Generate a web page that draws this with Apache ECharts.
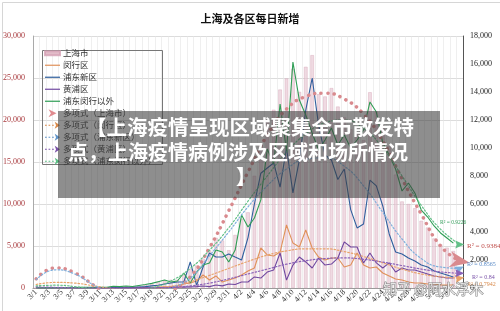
<!DOCTYPE html>
<html>
<head>
<meta charset="utf-8">
<style>
  html, body { margin: 0; padding: 0; background: #fff; }
  #main { width: 500px; height: 311px; }
</style>
<script src="https://cdn.jsdelivr.net/npm/echarts@6/dist/echarts.min.js"></script>
</head>
<body>
<div id="main"></div>
<script>
// categories: 3/1 .. 5/6
const dates = [
  '3/1','3/2','3/3','3/4','3/5','3/6','3/7','3/8','3/9','3/10',
  '3/11','3/12','3/13','3/14','3/15','3/16','3/17','3/18','3/19','3/20',
  '3/21','3/22','3/23','3/24','3/25','3/26','3/27','3/28','3/29','3/30','3/31',
  '4/1','4/2','4/3','4/4','4/5','4/6','4/7','4/8','4/9','4/10',
  '4/11','4/12','4/13','4/14','4/15','4/16','4/17','4/18','4/19','4/20',
  '4/21','4/22','4/23','4/24','4/25','4/26','4/27','4/28','4/29','4/30',
  '5/1','5/2','5/3','5/4','5/5','5/6'
]

// 上海市 (bars, left axis)
const shanghai = [
  2, 8, 17, 19, 28, 48, 55, 66, 79, 75, 83,
  65, 169, 139, 202, 158, 260, 374, 509, 758, 896,
  981, 983, 1609, 2269, 2676, 3500, 4477, 5982, 5653, 4502,
  6311, 8226, 9006, 13354, 17077, 19982, 21222, 23624, 24943, 26087,
  23342, 26330, 27719, 23072, 22800, 23800, 21600, 20300, 18900, 18500,
  17600, 23300, 21000, 19400, 16900, 13500, 10300, 10000, 9500, 8000,
  7200, 5900, 5200, 4800, 4400, null
]

// district lines (right axis)
const minhang = [
  0, 1, 2, 2, 3, 3, 5, 5, 6, 6, 8,
  8, 10, 15, 20, 20, 25, 30, 40, 60, 80,
  100, 150, 290, 360, 500, 930, 570, 860, 430, 570,
  710, 930, 1210, 1430, 2860, 2360, 2290, 2570, 4500, 3210,
  2930, 4140, 2860, 2210, 2000, 2140, 2140, 1500, 1640, 2500,
  1640, 1430, 1500, 1070, 860, 640, 570, 430, 360, 360,
  290, 290, 210, 210, 210, null
]
const pudong = [
  0, 2, 3, 3, 5, 8, 10, 10, 12, 12, 15,
  15, 30, 40, 50, 60, 70, 100, 150, 200, 290,
  360, 430, 430, 1860, 210, 1500, 2500, 2210, 2210, 2430,
  2210, 2000, 3600, 6000, 8200, 8570, 8930, 7210, 10000, 6790,
  9140, 12710, 15000, 11640, 9500, 9140, 7750, 8500, 5600, 4290,
  4570, 7710, 7290, 5860, 3860, 2570, 2430, 2140, 1930, 1640,
  1500, 1210, 1070, 930, 790, null
]
const huangpu = [
  0, 0, 0, 1, 1, 1, 2, 2, 2, 3, 3,
  3, 5, 5, 8, 8, 10, 12, 15, 20, 30,
  40, 50, 60, 80, 100, 140, 100, 210, 150, 290,
  250, 430, 430, 790, 710, 1140, 1290, 2500, 570, 1640,
  2210, 1860, 1430, 2140, 1640, 1710, 2140, 3290, 2930, 2930,
  1790, 2500, 1790, 1430, 1790, 1140, 1430, 1290, 1290, 1140,
  1000, 860, 790, 710, 710, null
]
const others = [
  2, 6, 12, 14, 20, 35, 40, 45, 50, 50, 55,
  50, 120, 100, 140, 110, 180, 250, 330, 450, 570,
  430, 500, 1070, 360, 1140, 1640, 1790, 2710, 2570, 1860,
  2710, 5210, 4360, 5000, 6290, 9930, 8860, 13140, 9800, 16140,
  13430, 12360, 11070, 9860, 10570, 11430, 10210, 10930, 10000, 10570,
  11290, 13290, 12570, 10360, 9500, 8500, 6930, 7500, 6790, 5570,
  5070, 4430, 3930, 3570, 3210, null
]

// polynomial trend lines, read at every third day
const trendAt = [0, 3, 6, 9, 12, 15, 18, 21, 24, 27, 30, 33, 36, 39, 42, 45, 48, 51, 54, 57, 60, 63, 66]
const trendShanghai = [1100, 2400, 1800, 300, -1300, -2000, -1700, -500, 1300, 4800, 9200, 13800, 18200, 21300, 22800, 23200, 22500, 20700, 17500, 13000, 8800, 5000, 3200]
const trendMinhang = [250, 400, 350, 150, -50, -150, -100, 100, 450, 900, 1400, 1900, 2350, 2650, 2800, 2800, 2600, 2250, 1800, 1350, 1000, 800, 700]
const trendPudong = [600, 1300, 1000, 200, -400, -700, -500, 0, 700, 2300, 4000, 5800, 7300, 8500, 9200, 9300, 8700, 7300, 5400, 3500, 2100, 1500, 1400]
const trendHuangpu = [80, 50, 20, 0, -30, -30, 0, 50, 150, 350, 650, 1000, 1350, 1700, 1950, 2100, 2150, 2050, 1850, 1600, 1350, 1150, 1050]
const trendOthers = [150, 200, 100, -100, -300, -300, 0, 500, 1400, 2700, 4300, 6200, 8000, 9700, 11000, 11800, 12000, 11400, 10000, 8000, 5900, 4200, 3100]

const serif = "'Liberation Serif', 'Noto Sans CJK SC', serif"
const cjk = "'Noto Sans CJK SC', sans-serif"
const arrowPath = 'path://M0,0 L10,5 L0,10 L3,5 Z'
const openArrow = 'path://M0,0 L10,5 L0,10 L1.5,5 Z'
const lineIcon = 'path://M0,4.4h15v1.2h-15z'
const dotArrowIcon = 'path://M0,4.4h2v1.2h-2z M4,4.4h2v1.2h-2z M8,4.4h2v1.2h-2z M11,1 L17,5 L11,9 L12.5,5 Z'

function trendData(values, arrow, size, rotate) {
  const out = dates.map(() => null)
  trendAt.forEach((d, k) => { out[d] = values[k] })
  const last = trendAt[trendAt.length - 1]
  out[last] = { value: out[last], symbol: arrow, symbolSize: size, symbolRotate: rotate }
  return out
}

function lineSeries(name, data, color) {
  return {
    name: name, type: 'line', yAxisIndex: 1, data: data,
    symbol: 'none', color: color,
    lineStyle: { width: 1.1, color: color }, z: 3
  }
}

function trendSeries(name, values, color, axis, width, dash, size, rotate, arrow) {
  return {
    name: name, type: 'line', yAxisIndex: axis, smooth: true, connectNulls: true,
    data: trendData(values, arrow || openArrow, size, rotate),
    symbol: 'none', showSymbol: true, showAllSymbol: true, color: color,
    itemStyle: { color: color },
    lineStyle: { width: width, color: color, type: dash, cap: 'round' }, z: 4
  }
}

const chart = echarts.init(document.getElementById('main'))

chart.setOption({
  backgroundColor: '#fff',
  animation: false,
  title: {
    text: '上海及各区每日新增', left: 'center', top: 8,
    textStyle: { fontFamily: cjk, fontSize: 11, fontWeight: 'bold', color: '#111' }
  },
  legend: {
    orient: 'vertical', left: 40, top: 48, z: 10,
    borderWidth: 0, padding: [1, 8, 1, 4],
    itemWidth: 15, itemHeight: 8, itemGap: 3.5,
    textStyle: { fontFamily: cjk, fontSize: 8.5, color: '#333', padding: [0, 0, 0, -2] },
    data: [
      { name: '上海市', icon: 'path://M0,0h15v4h-15z', itemStyle: { color: '#e2bcc9' } },
      { name: '闵行区', icon: lineIcon, itemStyle: { color: '#e0915a' } },
      { name: '浦东新区', icon: lineIcon, itemStyle: { color: '#2f5f9e' } },
      { name: '黄浦区', icon: lineIcon, itemStyle: { color: '#7048a0' } },
      { name: '浦东闵行以外', icon: lineIcon, itemStyle: { color: '#2f9e55' } },
      { name: '多项式（上海市）', icon: arrowPath, itemStyle: { color: '#e08a8f' } },
      { name: '多项式（闵行区）', icon: dotArrowIcon, itemStyle: { color: '#d9894a' } },
      { name: '多项式（浦东新区）', icon: dotArrowIcon, itemStyle: { color: '#5f93c8' } },
      { name: '多项式（黄浦区）', icon: dotArrowIcon, itemStyle: { color: '#7a52a8' } },
      { name: '多项式（浦东闵行以外）', icon: dotArrowIcon, itemStyle: { color: '#5cbf84' } }
    ]
  },
  grid: { left: 30, right: 37, top: 36, bottom: 23 },
  xAxis: {
    type: 'category', data: dates, boundaryGap: true,
    axisLine: { lineStyle: { color: '#999' } },
    axisTick: { show: false },
    splitLine: { show: true, interval: 0, lineStyle: { color: '#e4e4e4', width: 0.6 } },
    axisLabel: {
      rotate: 45, fontFamily: serif, fontSize: 8, color: '#333', margin: 3,
      interval: (i) => i % 2 === 0 && i < 66
    }
  },
  yAxis: [
    {
      type: 'value', min: 0, max: 30000, interval: 5000,
      axisLine: { show: true, lineStyle: { color: '#aaa' } },
      axisLabel: { fontFamily: serif, fontSize: 8, color: '#a8383c', margin: 8 },
      splitLine: { lineStyle: { color: '#dcdcdc' } }
    },
    {
      type: 'value', min: 0, max: 18000, interval: 2000,
      axisLine: { show: true, lineStyle: { color: '#555' } },
      axisLabel: { fontFamily: serif, fontSize: 8, color: '#222', margin: 7 },
      splitLine: { show: false }
    }
  ],
  series: [
    {
      name: '上海市', type: 'bar', yAxisIndex: 0, data: shanghai, barWidth: '55%',
      itemStyle: { color: 'rgba(230,198,210,0.65)', borderColor: 'rgba(212,160,180,0.8)', borderWidth: 0.5 }, z: 1
    },
    lineSeries('闵行区', minhang, '#e0915a'),
    lineSeries('浦东新区', pudong, '#2f5f9e'),
    lineSeries('黄浦区', huangpu, '#7048a0'),
    lineSeries('浦东闵行以外', others, '#2f9e55'),
    trendSeries('多项式（上海市）', trendShanghai, '#d98a8e', 0, 3.5, [0.1, 6.4], [20, 16], -10, arrowPath),
    trendSeries('多项式（闵行区）', trendMinhang, '#e8a36b', 1, 1.2, [1.5, 2], [9, 8], 10),
    trendSeries('多项式（浦东新区）', trendPudong, '#7fb0dd', 1, 1.2, [1.5, 2], [9, 8], 25),
    trendSeries('多项式（黄浦区）', trendHuangpu, '#8a62b8', 1, 1.2, [1.5, 2], [9, 8], 0),
    trendSeries('多项式（浦东闵行以外）', trendOthers, '#63c088', 1, 1.2, [1.5, 2], [9, 8], 0)
  ],
  graphic: [
    {
      type: 'rect', left: 0, top: 0, silent: true, z: 100,
      shape: { width: 499, height: 310 },
      style: { fill: 'none', stroke: '#d6d6d6', lineWidth: 1 }
    },
    // legend frame
    {
      type: 'rect', left: 40, top: 48, silent: true, z: 5,
      shape: { width: 120, height: 114 },
      style: { fill: 'none', stroke: '#777', lineWidth: 1 }
    },
    { type: 'text', left: 440, top: 220, z: 50, style: { text: 'R² = 0.9226', fill: '#3aa060', font: '5.5px ' + serif } },
    { type: 'text', left: 467, top: 243, z: 50, style: { text: 'R² = 0.9384', fill: '#c0504d', font: '7px ' + serif } },
    { type: 'text', left: 467, top: 261, z: 50, style: { text: 'R² = 0.8565', fill: '#5a8ac6', font: '6px ' + serif } },
    { type: 'text', left: 472, top: 274, z: 50, style: { text: 'R² = 0.84', fill: '#7a52a8', font: '6px ' + serif } },
    { type: 'text', left: 467, top: 281, z: 50, style: { text: 'R² = 0.7942', fill: '#d9894a', font: '6px ' + serif } },
    {
      type: 'rect', left: 58, top: 111, z: 60, silent: true,
      shape: { width: 382, height: 87 },
      style: { fill: 'rgba(60,60,60,0.58)' }
    },
    {
      type: 'text', z: 61, x: 250, y: 127,
      style: { text: '【上海疫情呈现区域聚集全市散发特', fill: '#fff', font: 'bold 20.5px ' + cjk, textAlign: 'center', textVerticalAlign: 'middle' }
    },
    {
      type: 'text', z: 61, x: 68, y: 152,
      style: { text: '点，上海疫情病例涉及区域和场所情况', fill: '#fff', font: 'bold 20px ' + cjk, textAlign: 'left', textVerticalAlign: 'middle' }
    },
    {
      type: 'text', z: 61, x: 236, y: 176,
      style: { text: '】', fill: '#fff', font: 'bold 20px ' + cjk, textAlign: 'left', textVerticalAlign: 'middle' }
    },
    {
      type: 'text', z: 70, x: 383, y: 289,
      style: { text: '知乎 @阿水浮木', fill: 'rgba(255,255,255,0.8)', stroke: 'rgba(110,110,110,0.85)', lineWidth: 1, font: '14px ' + cjk, textVerticalAlign: 'middle' }
    }
  ]
})
</script>
</body>
</html>
